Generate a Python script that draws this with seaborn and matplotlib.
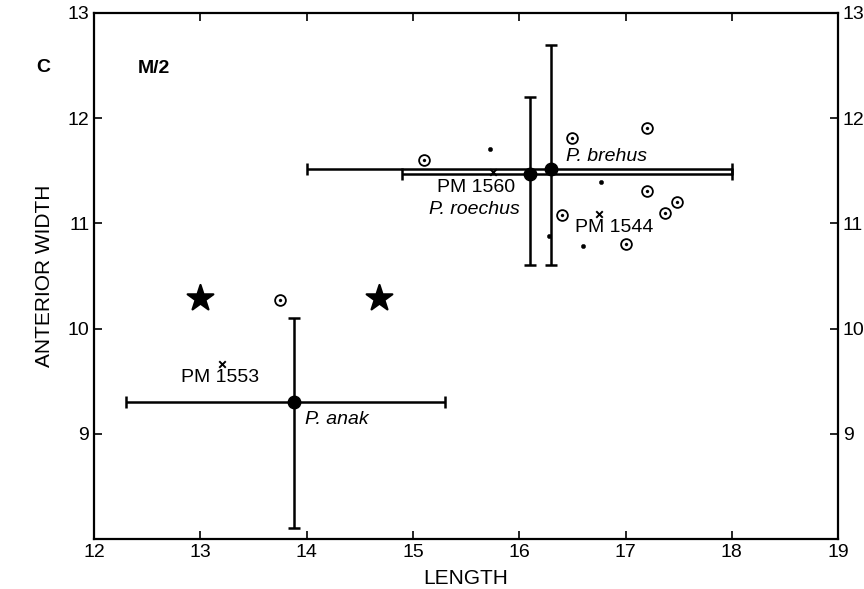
import numpy as np
import pandas as pd
import matplotlib
matplotlib.use("Agg")
import matplotlib.pyplot as plt
import seaborn as sns

# --- Dữ liệu ---
# điểm tròn có chấm giữa
circle_x = [13.75, 15.1, 16.5, 17.2, 17.2, 17.48, 17.37, 16.4, 17.0]
circle_y = [10.27, 11.6, 11.81, 11.91, 11.31, 11.2, 11.1, 11.08, 10.8]
# chấm nhỏ
dot_x = [15.72, 16.77, 16.28, 16.6]
dot_y = [11.71, 11.39, 10.88, 10.78]
# ngôi sao
star_x = [13.0, 14.68]
star_y = [10.29, 10.29]
# mẫu vật PM (dấu x)
pm_names = ["PM 1553", "PM 1560", "PM 1544"]
pm_x = [13.2, 15.75, 16.75]
pm_y = [9.66, 11.49, 11.09]
# trung bình loài và khoảng biến thiên
species = ["P. anak", "P. roechus", "P. brehus"]
mean_x = [13.88, 16.1, 16.3]
mean_y = [9.3, 11.47, 11.52]
min_x = [12.3, 14.9, 14.0]
max_x = [15.3, 18.0, 18.0]
min_y = [8.1, 10.6, 10.6]
max_y = [10.1, 12.2, 12.7]

sns.set_theme(style="ticks")
plt.rcParams['font.family'] = ['Liberation Sans', 'DejaVu Sans']
plt.rcParams['text.color'] = 'black'
plt.rcParams['axes.labelcolor'] = 'black'

fig = plt.figure(figsize=(8.64, 5.89), dpi=100)
ax = fig.add_axes([0.109, 0.085, 0.861, 0.893])

# thanh khoảng biến thiên
for i in range(len(species)):
    ax.errorbar(mean_x[i], mean_y[i],
                xerr=[[mean_x[i] - min_x[i]], [max_x[i] - mean_x[i]]],
                yerr=[[mean_y[i] - min_y[i]], [max_y[i] - mean_y[i]]],
                fmt='o', color='black', ms=9, elinewidth=1.8, capsize=4, capthick=1.8, zorder=3)

circles_df = pd.DataFrame({"x": circle_x, "y": circle_y})
sns.scatterplot(data=circles_df, x="x", y="y", marker='o', s=60, facecolor='white',
                edgecolor='black', linewidth=1.3, ax=ax, zorder=4)
sns.scatterplot(data=circles_df, x="x", y="y", marker='o', s=5, color='black',
                edgecolor='black', ax=ax, zorder=5)

dots_df = pd.DataFrame({"x": dot_x, "y": dot_y})
sns.scatterplot(data=dots_df, x="x", y="y", marker='o', s=10, color='black',
                edgecolor='black', ax=ax, zorder=4)

stars_df = pd.DataFrame({"x": star_x, "y": star_y})
sns.scatterplot(data=stars_df, x="x", y="y", marker='*', s=380, color='black',
                edgecolor='black', ax=ax, zorder=4)

pm_df = pd.DataFrame({"x": pm_x, "y": pm_y, "name": pm_names})
sns.scatterplot(data=pm_df, x="x", y="y", marker='x', s=22, color='black',
                linewidth=1.4, ax=ax, zorder=4)

# nhãn
fs = 14
ax.text(15.59, 11.34, "PM 1560", ha='center', va='center', fontsize=fs)
ax.text(16.89, 10.96, "PM 1544", ha='center', va='center', fontsize=fs)
ax.text(13.18, 9.53, "PM 1553", ha='center', va='center', fontsize=fs)
ax.text(15.58, 11.13, "P. roechus", ha='center', va='center', fontsize=fs, style='italic')
ax.text(16.44, 11.64, "P. brehus", ha='left', va='center', fontsize=fs, style='italic')
ax.text(13.98, 9.14, "P. anak", ha='left', va='center', fontsize=fs, style='italic')
ax.text(0.058, 0.895, "M/2", transform=ax.transAxes, ha='left', va='center',
        fontsize=14, fontweight='bold')
fig.text(0.05, 0.885, "C", ha='center', va='center', fontsize=14, fontweight='bold')

ax.set_xlim(12, 19)
ax.set_ylim(8, 13)
ax.set_xticks(range(12, 20))
ax.set_yticks(range(9, 14))
ax.tick_params(direction='in', length=6, width=1.2, labelsize=14,
               top=True, right=True, labelright=True, colors='black')
for s in ax.spines.values():
    s.set_linewidth(1.6)
    s.set_color('black')
ax.set_xlabel("LENGTH", fontsize=15, labelpad=6)
ax.set_ylabel("ANTERIOR WIDTH", fontsize=15, labelpad=10)

fig.savefig("out.png", dpi=100)
